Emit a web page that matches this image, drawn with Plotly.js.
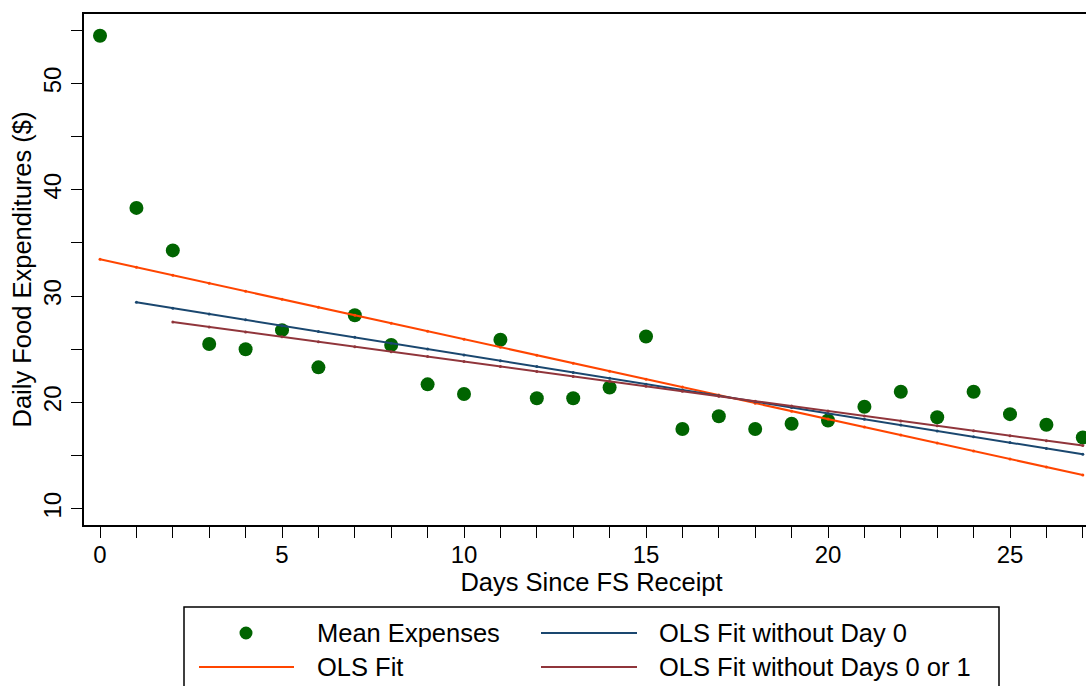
<!DOCTYPE html>
<html>
<head>
<meta charset="utf-8">
<script src="https://cdn.plot.ly/plotly-3.0.1.min.js"></script>
<style>
html, body { margin: 0; padding: 0; overflow: hidden; background: #fff; }
#chart { width: 1110px; height: 700px; }
</style>
</head>
<body>
<div id="chart"></div>
<script>
// ---- Data ----
const days = [0,1,2,3,4,5,6,7,8,9,10,11,12,13,14,15,16,17,18,19,20,21,22,23,24,25,26,27];
const meanExpenses = [54.5, 38.3, 34.3, 25.5, 25.0, 26.8, 23.3, 28.2, 25.4, 21.7, 20.8, 25.9, 20.4, 20.4, 21.4, 26.2, 17.5, 18.7, 17.5, 18.0, 18.3, 19.6, 21.0, 18.6, 21.0, 18.9, 17.9, 16.7];

const olsFitDays = [0,1,2,3,4,5,6,7,8,9,10,11,12,13,14,15,16,17,18,19,20,21,22,23,24,25,26,27];
const olsFit = [33.46, 32.71, 31.96, 31.21, 30.45, 29.70, 28.95, 28.20, 27.45, 26.70, 25.95, 25.19, 24.44, 23.69, 22.94, 22.19, 21.44, 20.69, 19.93, 19.18, 18.43, 17.68, 16.93, 16.18, 15.42, 14.67, 13.92, 13.17];

const olsNoDay0Days = [1,2,3,4,5,6,7,8,9,10,11,12,13,14,15,16,17,18,19,20,21,22,23,24,25,26,27];
const olsNoDay0 = [29.42, 28.87, 28.32, 27.77, 27.22, 26.67, 26.12, 25.57, 25.02, 24.47, 23.92, 23.37, 22.82, 22.27, 21.72, 21.17, 20.62, 20.07, 19.52, 18.97, 18.42, 17.87, 17.32, 16.77, 16.22, 15.67, 15.12];

const olsNoDay01Days = [2,3,4,5,6,7,8,9,10,11,12,13,14,15,16,17,18,19,20,21,22,23,24,25,26,27];
const olsNoDay01 = [27.56, 27.10, 26.63, 26.17, 25.70, 25.24, 24.77, 24.31, 23.84, 23.38, 22.91, 22.45, 21.98, 21.52, 21.05, 20.59, 20.12, 19.66, 19.19, 18.73, 18.26, 17.80, 17.33, 16.87, 16.40, 15.94];

const xTickVals = [0,1,2,3,4,5,6,7,8,9,10,11,12,13,14,15,16,17,18,19,20,21,22,23,24,25,26,27];
const xTickText = ["0","","","","","5","","","","","10","","","","","15","","","","","20","","","","","25","",""];
const yTickVals = [10,15,20,25,30,35,40,45,50,55];
const yTickText = ["10","","20","","30","","40","","50",""];

const seriesNames = ["Mean Expenses", "OLS Fit", "OLS Fit without Day 0", "OLS Fit without Days 0 or 1"];

// ---- Styles ----
const GREEN = "#006400";
const ORANGE = "#ff4500";
const NAVY = "#1a476f";
const MAROON = "#90353b";
const FONT = "Liberation Sans, Arial, sans-serif";
const TXT = 25.5;
const TICK = 24;

// plot area geometry (pixels)
const L = 84, R = 1099, T = 14, B = 525, W = 1110, H = 700;
const px = v => (v - L) / (R - L);
const py = v => (B - v) / (B - T);

const traces = [
  { x: days, y: meanExpenses, type: "scatter", mode: "markers", name: seriesNames[0],
    marker: { color: GREEN, size: 14 }, cliponaxis: false },
  { x: olsFitDays, y: olsFit, type: "scatter", mode: "lines+markers", name: seriesNames[1],
    line: { color: ORANGE, width: 2 }, marker: { color: ORANGE, size: 3 } },
  { x: olsNoDay0Days, y: olsNoDay0, type: "scatter", mode: "lines+markers", name: seriesNames[2],
    line: { color: NAVY, width: 2 }, marker: { color: NAVY, size: 3 } },
  { x: olsNoDay01Days, y: olsNoDay01, type: "scatter", mode: "lines+markers", name: seriesNames[3],
    line: { color: MAROON, width: 2 }, marker: { color: MAROON, size: 3 } }
];

// custom legend (box, samples, labels)
const legendShapes = [
  { type: "rect", xref: "paper", yref: "paper", x0: px(184), x1: px(999), y0: py(700), y1: py(607),
    line: { color: "#000", width: 1.5 }, fillcolor: "rgba(0,0,0,0)" },
  { type: "circle", xref: "paper", yref: "paper", xsizemode: "pixel", ysizemode: "pixel",
    xanchor: px(246), yanchor: py(633), x0: -6.5, x1: 6.5, y0: -6.5, y1: 6.5,
    fillcolor: GREEN, line: { width: 0 } },
  { type: "line", xref: "paper", yref: "paper", x0: px(199), x1: px(294), y0: py(667), y1: py(667),
    line: { color: ORANGE, width: 2 } },
  { type: "line", xref: "paper", yref: "paper", x0: px(541), x1: px(637), y0: py(633), y1: py(633),
    line: { color: NAVY, width: 2 } },
  { type: "line", xref: "paper", yref: "paper", x0: px(541), x1: px(637), y0: py(667), y1: py(667),
    line: { color: MAROON, width: 2 } }
];
const legendText = (t, x, y) => ({ text: t, xref: "paper", yref: "paper", x: px(x), y: py(y),
  xanchor: "left", yanchor: "middle", showarrow: false, borderpad: 0,
  font: { family: FONT, size: TXT, color: "#000" } });
const legendAnnotations = [
  legendText(seriesNames[0], 316, 633),
  legendText(seriesNames[1], 316, 667),
  legendText(seriesNames[2], 658, 633),
  legendText(seriesNames[3], 658, 667)
];

const layout = {
  width: W, height: H,
  margin: { l: L, r: W - R, t: T, b: H - B, autoexpand: false },
  paper_bgcolor: "#fff", plot_bgcolor: "#fff",
  showlegend: false,
  font: { family: FONT, color: "#000" },
  xaxis: {
    range: [-0.44, 27.445], tickmode: "array", tickvals: xTickVals, ticktext: xTickText,
    ticks: "outside", ticklen: 11, tickwidth: 1, tickcolor: "#000", ticklabelstandoff: -4,
    showline: true, linecolor: "#000", linewidth: 2, mirror: true,
    showgrid: false, zeroline: false,
    tickfont: { family: FONT, size: TICK, color: "#000" },
    title: { text: "Days Since FS Receipt", font: { family: FONT, size: TXT, color: "#000" }, standoff: 0 }
  },
  yaxis: {
    range: [8.47, 56.54], tickmode: "array", tickvals: yTickVals, ticktext: yTickText,
    ticks: "outside", ticklen: 11, tickwidth: 1, tickcolor: "#000", tickangle: -90,
    showline: true, linecolor: "#000", linewidth: 2, mirror: true,
    showgrid: false, zeroline: false,
    tickfont: { family: FONT, size: TICK, color: "#000" },
    title: { text: "Daily Food Expenditures ($)", font: { family: FONT, size: TXT, color: "#000" }, standoff: 0 }
  },
  shapes: legendShapes,
  annotations: legendAnnotations
};

Plotly.newPlot("chart", traces, layout, { displayModeBar: false, staticPlot: true });
</script>
</body>
</html>
